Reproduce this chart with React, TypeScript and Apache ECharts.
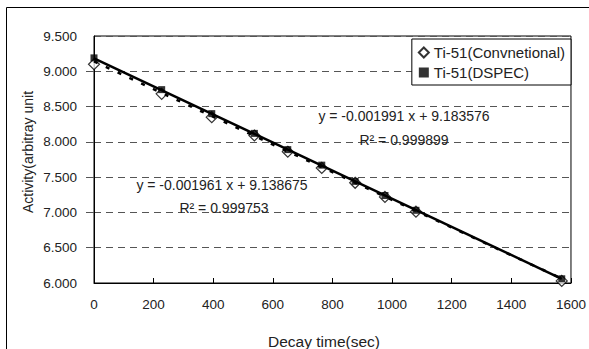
import React, { useEffect, useRef } from "react";
import * as echarts from "echarts";

const FONT = "'Liberation Sans', Arial, sans-serif";

// Decay time (sec) and activity values
const conventionalTime = [0, 227, 395, 538, 650, 764, 876, 976, 1080, 1569];
const conventionalActivity = [9.10, 8.68, 8.35, 8.09, 7.86, 7.63, 7.42, 7.22, 7.01, 6.03];
const dspecTime = [0, 227, 395, 538, 650, 764, 876, 976, 1080, 1569];
const dspecActivity = [9.19, 8.74, 8.40, 8.12, 7.89, 7.67, 7.44, 7.24, 7.03, 6.06];

// Trend line end points (from the fitted equations shown on the chart)
const fitTime = [0, 1569];
const conventionalFit = [9.139, 6.062];
const dspecFit = [9.184, 6.060];

const legendNames = ["Ti-51(Convnetional)", "Ti-51(DSPEC)"];
const equationTexts = [
  "y = -0.001991 x + 9.183576",
  "R\u00b2 = 0.999899",
  "y = -0.001961 x + 9.138675",
  "R\u00b2 = 0.999753",
];
const xAxisName = "Decay time(sec)";
const yAxisName = "Activity(arbitray unit";

const zip = (xs: number[], ys: number[]) => xs.map((x, i) => [x, ys[i]]);

export default function App() {
  const ref = useRef<HTMLDivElement>(null);
  useEffect(() => {
    if (!ref.current) return;
    const chart = echarts.init(ref.current, null, { renderer: "svg" });
    const txt = "#222";
    chart.setOption({
      animation: false,
      backgroundColor: "#fff",
      textStyle: { fontFamily: FONT },
      grid: [
        { left: 94, right: 18, top: 36, bottom: 66, show: true, borderColor: "#000", borderWidth: 1, backgroundColor: "transparent" },
        { left: 94, right: 18, top: 71.3, bottom: 101.3, show: false },
      ],
      xAxis: [
        {
          type: "value", min: 0, max: 1600, interval: 200, gridIndex: 0,
          axisLine: { show: true, lineStyle: { color: "#000", width: 1 } },
          axisTick: { show: true, inside: true, length: 5, lineStyle: { color: "#000" } },
          axisLabel: { margin: 14, fontSize: 13.5, color: txt, fontFamily: FONT, formatter: (v: number) => String(v) },
          splitLine: { show: false },
        },
        { type: "value", min: 0, max: 1, gridIndex: 1, show: false },
      ],
      yAxis: [
        {
          type: "value", min: 6, max: 9.5, interval: 0.5, gridIndex: 0,
          axisLine: { show: true, lineStyle: { color: "#000", width: 1 } },
          axisTick: { show: false },
          axisLabel: { margin: 17, fontSize: 13.5, color: txt, fontFamily: FONT, formatter: (v: number) => v.toFixed(3) },
          splitLine: { show: true, lineStyle: { color: "#555", width: 1, type: [7, 5] } },
        },
        {
          type: "value", min: 6.5, max: 9.0, interval: 0.5, gridIndex: 1,
          axisLine: { show: false },
          axisTick: { show: true, inside: false, length: 8, lineStyle: { color: "#555" } },
          axisLabel: { show: false },
          splitLine: { show: false },
        },
      ],
      legend: {
        data: [
          { name: legendNames[0], icon: "diamond" },
          { name: legendNames[1], icon: "rect" },
        ],
        orient: "vertical",
        right: 18,
        top: 39,
        itemWidth: 10,
        itemHeight: 10,
        itemGap: 5,
        padding: [6, 6, 5, 6],
        backgroundColor: "#fff",
        borderColor: "#000",
        borderWidth: 1,
        borderRadius: 0,
        textStyle: { fontSize: 15, color: txt, fontFamily: FONT },
      },
      series: [
        {
          name: legendNames[0], type: "scatter", data: zip(conventionalTime, conventionalActivity),
          symbol: "diamond", symbolSize: 11,
          itemStyle: { color: "#fff", borderColor: "#000", borderWidth: 1.2 },
          z: 3,
        },
        {
          name: legendNames[1], type: "scatter", data: zip(dspecTime, dspecActivity),
          symbol: "rect", symbolSize: 7,
          itemStyle: { color: "#000" },
          z: 4,
        },
        {
          name: "fitConventional", type: "line", data: zip(fitTime, conventionalFit),
          showSymbol: false, symbol: "none",
          lineStyle: { color: "#000", width: 2.5, type: [4, 9] },
          z: 5,
        },
        {
          name: "fitDSPEC", type: "line", data: zip(fitTime, dspecFit),
          showSymbol: false, symbol: "none",
          lineStyle: { color: "#000", width: 2.5 },
          z: 6,
        },
      ],
      graphic: [
        { type: "rect", shape: { x: 6.5, y: 7.5, width: 700, height: 500 }, style: { fill: "none", stroke: "#000", lineWidth: 1 }, silent: true, z: 100 },
        { type: "text", x: 404, y: 116, style: { text: equationTexts[0], fontSize: 14, fill: txt, fontFamily: FONT, align: "center", verticalAlign: "middle" }, z: 100 },
        { type: "text", x: 404, y: 140, style: { text: equationTexts[1], fontSize: 14, fill: txt, fontFamily: FONT, align: "center", verticalAlign: "middle" }, z: 100 },
        { type: "text", x: 222, y: 185, style: { text: equationTexts[2], fontSize: 14, fill: txt, fontFamily: FONT, align: "center", verticalAlign: "middle" }, z: 100 },
        { type: "text", x: 224, y: 208, style: { text: equationTexts[3], fontSize: 14, fill: txt, fontFamily: FONT, align: "center", verticalAlign: "middle" }, z: 100 },
        { type: "text", x: 324, y: 341, style: { text: xAxisName, fontSize: 15.5, fill: txt, fontFamily: FONT, align: "center", verticalAlign: "middle" }, z: 100 },
        { type: "text", x: 28, y: 152, rotation: Math.PI / 2, style: { text: yAxisName, fontSize: 14, fill: txt, fontFamily: FONT, align: "center", verticalAlign: "middle" }, z: 100 },
      ],
    });
    return () => chart.dispose();
  }, []);
  return (
    <div
      ref={ref}
      style={{ position: "fixed", left: 0, top: 0, width: 589, height: 349, background: "#fff" }}
    />
  );
}
